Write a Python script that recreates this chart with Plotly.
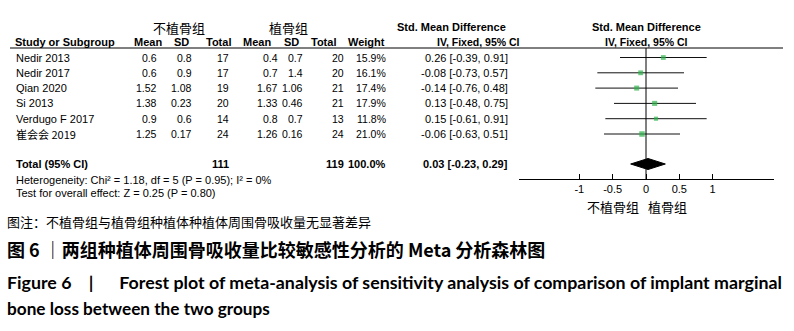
import plotly.graph_objects as go

# ---------------- data ----------------
studies = ["Nedir 2013", "Nedir 2017", "Qian 2020", "Si 2013", "Verdugo F 2017", "崔会会 2019"]
mean_a = [0.6, 0.6, 1.52, 1.38, 0.9, 1.25]      # 不植骨组
sd_a = [0.8, 0.9, 1.08, 0.23, 0.6, 0.17]
n_a = [17, 17, 19, 20, 14, 24]
mean_b = [0.4, 0.7, 1.67, 1.33, 0.8, 1.26]      # 植骨组
sd_b = [0.7, 1.4, 1.06, 0.46, 0.7, 0.16]
n_b = [20, 20, 21, 21, 13, 24]
weight = [15.9, 16.1, 17.4, 17.9, 11.8, 21.0]
smd = [0.26, -0.08, -0.14, 0.13, 0.15, -0.06]
ci_lo = [-0.39, -0.73, -0.76, -0.48, -0.61, -0.63]
ci_hi = [0.91, 0.57, 0.48, 0.75, 0.91, 0.51]
total_a, total_b, total_w = 111, 119, 100.0
total_smd, total_lo, total_hi = 0.03, -0.23, 0.29
het_text = "Heterogeneity: Chi² = 1.18, df = 5 (P = 0.95); I² = 0%"
test_text = "Test for overall effect: Z = 0.25 (P = 0.80)"
tick_vals = [-1, -0.5, 0, 0.5, 1]
tick_text = ["-1", "-0.5", "0", "0.5", "1"]
group_a, group_b = "不植骨组", "植骨组"
note_text = "图注：不植骨组与植骨组种植体种植体周围骨吸收量无显著差异"
title_cn = "图 6 ｜两组种植体周围骨吸收量比较敏感性分析的 Meta 分析森林图"
title_en1 = ("Figure 6 &nbsp;&nbsp;&nbsp;|&nbsp;&nbsp;&nbsp;&nbsp;&nbsp; Forest plot of meta-analysis "
             "of sensitivity analysis of comparison of implant marginal")
title_en2 = "bone loss between the two groups"

# ---------------- layout constants (pixels) ----------------
W, H = 794, 331
row0, row_step = 57.5, 15.3
rows = [row0 + row_step * i for i in range(len(studies))]
y_total = 164
y_het, y_test = 180, 193
y_axis = 179
y_head_line = 48
TF = "Liberation Sans, Arial, sans-serif"
CJK = "Noto Sans CJK SC, sans-serif"
FS = 10.5

fig = go.Figure()

# CI lines
cx, cy = [], []
for lo, hi, r in zip(ci_lo, ci_hi, rows):
    cx += [lo, hi, None]
    cy += [r, r, None]
fig.add_trace(go.Scatter(x=cx, y=cy, mode="lines", line=dict(color="#111111", width=1),
                         hoverinfo="skip", showlegend=False))
# zero line
fig.add_trace(go.Scatter(x=[0, 0], y=[y_head_line, y_axis], mode="lines",
                         line=dict(color="#000000", width=1), hoverinfo="skip", showlegend=False))
# study squares
fig.add_trace(go.Scatter(x=smd, y=rows, mode="markers",
                         marker=dict(symbol="square", color="#2db34a",
                                     size=[12 * (w / 100) ** 0.5 for w in weight],
                                     line=dict(width=0)),
                         showlegend=False))
# diamond
dh = 5.5
fig.add_trace(go.Scatter(x=[total_lo, total_smd, total_hi, total_smd, total_lo],
                         y=[y_total, y_total - dh, y_total, y_total + dh, y_total],
                         mode="lines", fill="toself", fillcolor="#000000",
                         line=dict(color="#000000", width=1), showlegend=False))

ann = []


def add(text, x, y, anchor="left", size=FS, font=TF, bold=False, color="#000000"):
    if bold:
        text = "<b>" + text + "</b>"
    ann.append(dict(text=text, x=x / W, y=y, xref="paper", yref="y", xanchor=anchor,
                    yanchor="middle", showarrow=False, borderpad=0,
                    font=dict(family=font, size=size, color=color)))


# group headers
add(group_a, 179, 27, "center", 13, CJK)
add(group_b, 288, 27, "center", 13, CJK)
add("Std. Mean Difference", 396, 27, "left", 11, TF, True)
add("Std. Mean Difference", 646, 27, "center", 11, TF, True)
# column headers
add("Study or Subgroup", 14, 42, "left", 11, TF, True)
for t, xr in [("Mean", 163), ("SD", 190), ("Total", 232), ("Mean", 272), ("SD", 300),
              ("Total", 337), ("Weight", 386)]:
    add(t, xr, 42, "right", 11, TF, True)
add("IV, Fixed, 95% CI", 436, 42, "left", 10.5, TF, True)
add("IV, Fixed, 95% CI", 646, 42, "center", 10.5, TF, True)

# study rows
for i, r in enumerate(rows):
    add(studies[i], 15, r, "left", 11 if i < 5 else 11, TF if i < 5 else CJK)
    add(f"{mean_a[i]}", 158, r, "right")
    add(f"{sd_a[i]}", 193, r, "right")
    add(f"{n_a[i]}", 230, r, "right")
    add(f"{mean_b[i]}", 279, r, "right")
    add(f"{sd_b[i]}", 304, r, "right")
    add(f"{n_b[i]}", 345, r, "right")
    add(f"{weight[i]:.1f}%", 387, r, "right")
    add(f"{smd[i]:.2f} [{ci_lo[i]:.2f}, {ci_hi[i]:.2f}]", 509, r, "right", 11)

# total row
add("Total (95% CI)", 15, y_total, "left", 11, TF, True)
add(f"{total_a}", 230, y_total, "right", 11, TF, True)
add(f"{total_b}", 345, y_total, "right", 11, TF, True)
add(f"{total_w:.1f}%", 387, y_total, "right", 11, TF, True)
add(f"{total_smd:.2f} [{total_lo:.2f}, {total_hi:.2f}]", 509, y_total, "right", 11, TF, True)
add(het_text, 15, y_het, "left", 11)
add(test_text, 15, y_test, "left", 11)

# favour labels
add(group_a, 640, 206, "right", 13, CJK)
add(group_b, 647, 206, "left", 13, CJK)

# captions
add(note_text, 6, 221, "left", 13, CJK)
add(title_cn, 6, 249, "left", 18, CJK, True)
add(title_en1, 6, 282, "left", 17.8, "Lato, sans-serif", True)
add(title_en2, 6, 308, "left", 17.2, "Lato, sans-serif", True)

fig.update_layout(
    width=W, height=H, margin=dict(l=0, r=0, t=0, b=0),
    paper_bgcolor="white", plot_bgcolor="rgba(0,0,0,0)",
    annotations=ann,
    shapes=[dict(type="line", xref="paper", yref="y", x0=10 / W, x1=783 / W,
                 y0=y_head_line, y1=y_head_line, line=dict(color="#000000", width=1))],
    xaxis=dict(domain=[519 / W, 774 / W], range=[-1.905, 1.92], anchor="free",
               position=1 - y_axis / H, showline=True, linecolor="#000000", linewidth=1,
               ticks="inside", ticklen=5, tickcolor="#000000", tickwidth=1,
               tickvals=tick_vals, ticktext=tick_text, showgrid=False, zeroline=False,
               fixedrange=True, tickfont=dict(family=TF, size=11, color="#000000")),
    yaxis=dict(domain=[0, 1], range=[H, 0], visible=False, fixedrange=True),
)

fig.write_html("out.html", config={"displayModeBar": False},
               post_script="document.body.style.margin='0';document.body.style.overflow='hidden';")
